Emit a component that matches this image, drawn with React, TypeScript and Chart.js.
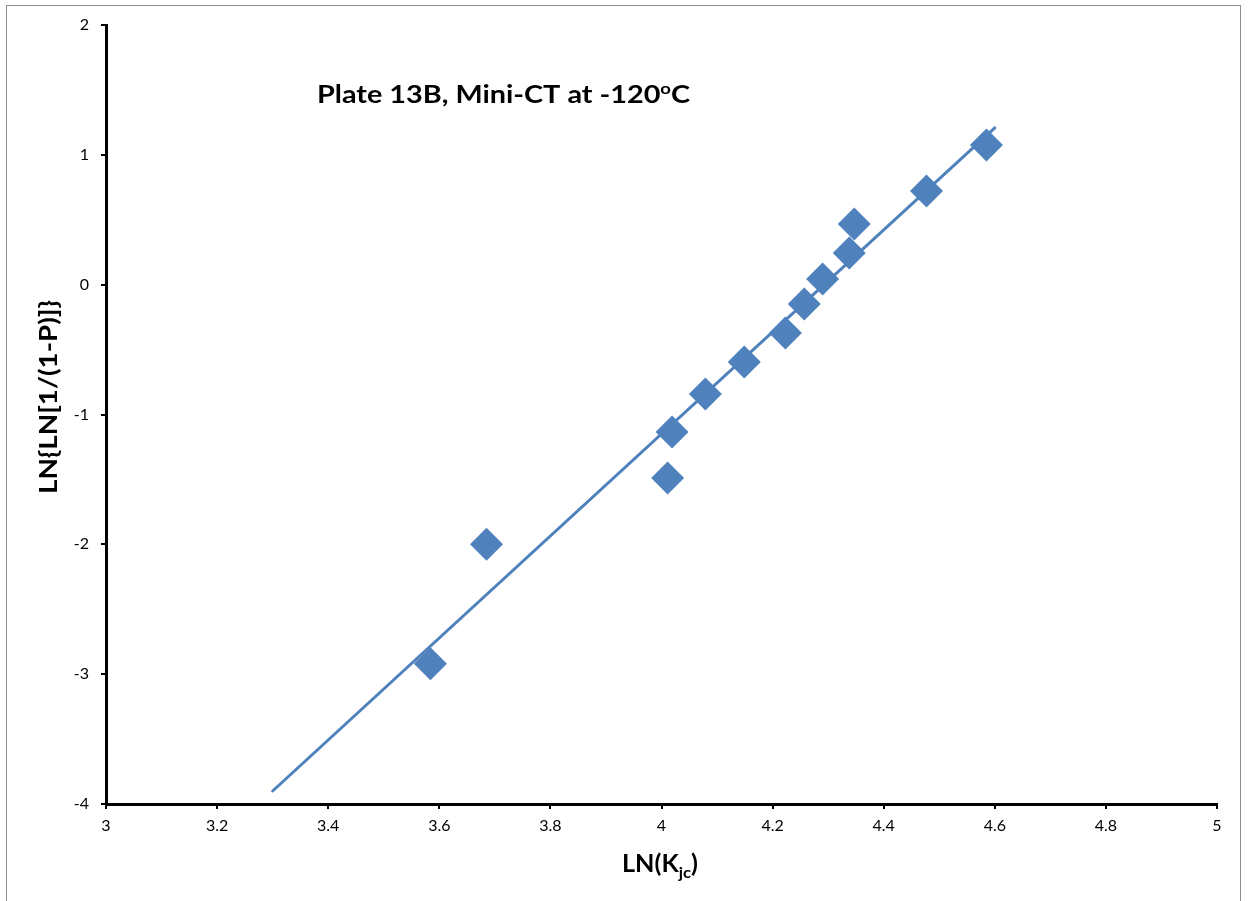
import React, { useEffect, useRef } from "react";
import { Chart, registerables } from "chart.js";

Chart.register(...registerables);

// ---- data ----
const lnK = [3.584, 3.685, 4.011, 4.019, 4.079, 4.149, 4.223, 4.257, 4.29, 4.338, 4.347, 4.477, 4.585];
const lnLnP = [-2.92, -2.0, -1.49, -1.135, -0.842, -0.596, -0.372, -0.149, 0.044, 0.244, 0.467, 0.721, 1.076];
const trendX = [3.3, 4.6];
const trendY = [-3.9, 1.207];
const xTicks = [3, 3.2, 3.4, 3.6, 3.8, 4, 4.2, 4.4, 4.6, 4.8, 5];
const yTicks = [-4, -3, -2, -1, 0, 1, 2];

const TITLE_MAIN = "Plate 13B, Mini-CT at -120";
const TITLE_SUP = "o";
const TITLE_END = "C";
const X_TITLE_A = "LN(K";
const X_TITLE_SUB = "jc";
const X_TITLE_B = ")";
const Y_TITLE = "LN{LN[1/(1-P)]}";

const BLUE = "#4F81BD";
const FONT = "Lato, 'Open Sans', sans-serif";

type Part = { t: string; size: number; dy: number };

// draws a run of text parts centred on (cx, baseline), stretched horizontally to targetW
function drawRun(ctx: any, parts: Part[], cx: number, by: number, targetW: number) {
  let total = 0;
  const widths = parts.map((p) => {
    ctx.font = `bold ${p.size}px ${FONT}`;
    const w = ctx.measureText(p.t).width;
    total += w;
    return w;
  });
  const sx = targetW / total;
  ctx.save();
  ctx.translate(cx - targetW / 2, by);
  ctx.scale(sx, 1);
  let x = 0;
  ctx.textAlign = "left";
  ctx.textBaseline = "alphabetic";
  parts.forEach((p, i) => {
    ctx.font = `bold ${p.size}px ${FONT}`;
    ctx.fillText(p.t, x, p.dy);
    x += widths[i];
  });
  ctx.restore();
}

const textPlugin = {
  id: "textPlugin",
  beforeDraw(chart: any) {
    const ctx = chart.ctx;
    ctx.save();
    ctx.fillStyle = "#ffffff";
    ctx.fillRect(0, 0, chart.width, chart.height);
    ctx.strokeStyle = "#8e8e8e";
    ctx.lineWidth = 1;
    ctx.strokeRect(6.5, 5.5, 1234, 905);
    ctx.restore();
  },
  afterDraw(chart: any) {
    const ctx = chart.ctx;
    ctx.save();
    ctx.fillStyle = "#000";

    // Title with superscript
    drawRun(
      ctx,
      [
        { t: TITLE_MAIN, size: 25, dy: 0 },
        { t: TITLE_SUP, size: 16, dy: -9 },
        { t: TITLE_END, size: 25, dy: 0 },
      ],
      503.5,
      103,
      373
    );

    // X axis title with subscript
    drawRun(
      ctx,
      [
        { t: X_TITLE_A, size: 24, dy: 0 },
        { t: X_TITLE_SUB, size: 16, dy: 6 },
        { t: X_TITLE_B, size: 24, dy: 0 },
      ],
      660,
      872,
      76
    );

    // Y axis title rotated
    ctx.save();
    ctx.translate(57, 397);
    ctx.rotate(-Math.PI / 2);
    drawRun(ctx, [{ t: Y_TITLE, size: 24, dy: 0 }], 0, 0, 194);
    ctx.restore();

    ctx.restore();
  },
};

export default function App() {
  const ref = useRef<HTMLCanvasElement | null>(null);

  useEffect(() => {
    if (!ref.current) return;
    const chart = new Chart(ref.current, {
      type: "scatter",
      data: {
        datasets: [
          {
            type: "scatter",
            label: "data",
            data: lnK.map((x, i) => ({ x, y: lnLnP[i] })),
            pointStyle: "rectRot",
            pointRadius: 16.5,
            pointHoverRadius: 16.5,
            backgroundColor: BLUE,
            borderColor: BLUE,
            borderWidth: 0,
            order: 1,
          },
          {
            type: "line",
            label: "trend",
            data: trendX.map((x, i) => ({ x, y: trendY[i] })),
            borderColor: BLUE,
            borderWidth: 3,
            pointRadius: 0,
            fill: false,
            order: 2,
            borderCapStyle: "round",
          } as any,
        ],
      },
      options: {
        responsive: false,
        animation: false,
        events: [],
        layout: { padding: { left: 0, right: 31, top: 25, bottom: 0 } },
        plugins: {
          legend: { display: false },
          tooltip: { enabled: false },
          title: { display: false },
        },
        scales: {
          x: {
            type: "linear",
            position: "bottom",
            min: 3,
            max: 5,
            afterBuildTicks: (s: any) => {
              s.ticks = xTicks.map((v) => ({ value: v }));
            },
            afterFit: (s: any) => {
              s.height = 97;
            },
            ticks: {
              callback: (v: any) => String(v),
              font: { family: FONT, size: 16 },
              color: "#000",
              padding: 7,
              maxRotation: 0,
              autoSkip: false,
            },
            grid: {
              drawOnChartArea: false,
              color: "#000",
              lineWidth: 2,
              tickLength: 5,
            },
            border: { color: "#000", width: 3 },
          },
          y: {
            type: "linear",
            position: "left",
            min: -4,
            max: 2,
            afterBuildTicks: (s: any) => {
              s.ticks = yTicks.map((v) => ({ value: v }));
            },
            afterFit: (s: any) => {
              s.width = 106;
            },
            ticks: {
              callback: (v: any) => String(v),
              font: { family: FONT, size: 16 },
              color: "#000",
              padding: 12,
              autoSkip: false,
            },
            grid: {
              drawOnChartArea: false,
              color: "#000",
              lineWidth: 2,
              tickLength: 5,
            },
            border: { color: "#000", width: 3 },
          },
        },
      },
      plugins: [textPlugin],
    });
    return () => chart.destroy();
  }, []);

  return (
    <canvas
      ref={ref}
      width={1248}
      height={901}
      style={{ position: "fixed", left: 0, top: 0, width: 1248, height: 901, display: "block" }}
    />
  );
}
